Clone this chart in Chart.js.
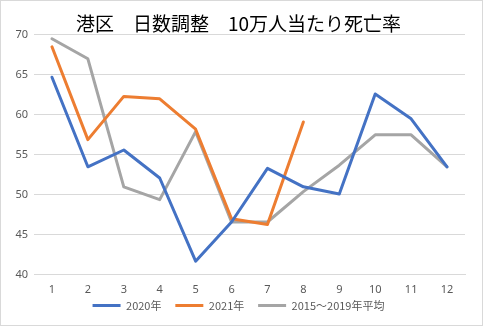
<!DOCTYPE html>
<html>
<head>
<meta charset="utf-8">
<script src="https://cdn.jsdelivr.net/npm/chart.js@4"></script>
<style>
  html, body { margin: 0; padding: 0; background: #fff; }
  .outerBorder { width: 481px; height: 324px; border: 1px solid #d9d9d9; background: #fff; }
</style>
</head>
<body>
<div class="outerBorder"><canvas id="myChart" width="481" height="324"></canvas></div>
<script>
const labels = ['1', '2', '3', '4', '5', '6', '7', '8', '9', '10', '11', '12'];

const y2020 = [64.7, 53.5, 55.6, 52.1, 41.7, 46.6, 53.3, 51.0, 50.1, 62.6, 59.5, 53.5];
const y2021 = [68.5, 56.9, 62.3, 62.0, 58.2, 47.0, 46.3, 59.1];
const yAvg = [69.5, 67.0, 51.0, 49.4, 57.9, 46.6, 46.6, 50.4, 53.7, 57.5, 57.5, 53.5];

const yTicks = [40, 45, 50, 55, 60, 65, 70];

const tickFont = { family: "'Noto Sans', 'Noto Sans CJK JP', sans-serif", size: 11 };

function series(name, color, values) {
  return {
    label: name,
    borderColor: color,
    backgroundColor: color,
    pointBorderColor: color,
    pointBackgroundColor: color,
    borderWidth: 3,
    pointBorderWidth: 3,
    data: values,
  };
}

const data = {
  labels: labels,
  datasets: [
    series('2020年    ', '#4472C4', y2020),
    series('2021年    ', '#ED7D31', y2021),
    series('2015～2019年平均', '#A5A5A5', yAvg)
  ]
};

const config = {
  type: 'line',
  data: data,
  options: {
    responsive: false,
    animation: false,
    layout: { padding: { left: 11, right: 17, top: 0, bottom: 4 } },
    elements: {
      line: { tension: 0, borderCapStyle: 'round', borderJoinStyle: 'round' },
      point: { radius: 0, hoverRadius: 0 }
    },
    plugins: {
      title: {
        display: true,
        text: '港区　日数調整　10万人当たり死亡率',
        color: '#000',
        font: { family: "'Noto Sans CJK JP', sans-serif", size: 19, weight: 'normal' },
        padding: { top: 11, bottom: 0 }
      },
      legend: {
        position: 'bottom',
        labels: {
          usePointStyle: true,
          pointStyle: 'line',
          pointStyleWidth: 28,
          color: '#595959',
          font: { family: "'Noto Sans CJK JP', sans-serif", size: 11 },
          padding: 4
        }
      },
      tooltip: { enabled: false }
    },
    scales: {
      x: {
        offset: true,
        grid: { display: false, drawTicks: false },
        border: { display: true, color: '#d9d9d9' },
        ticks: { color: '#595959', font: tickFont, padding: 8 },
        afterFit: function (scale) {
          scale.height -= 8;
        }
      },
      y: {
        min: 40,
        max: 70,
        afterBuildTicks: function (axis) {
          axis.ticks = yTicks.map(v => ({ value: v }));
        },
        afterFit: function (scale) {
          scale.width = 22;
        },
        grid: { color: '#d9d9d9', drawTicks: false },
        border: { display: false },
        ticks: { color: '#595959', font: tickFont, padding: 6 }
      }
    }
  }
};

const myChart = new Chart(
  document.getElementById('myChart'),
  config
);
</script>
</body>
</html>
